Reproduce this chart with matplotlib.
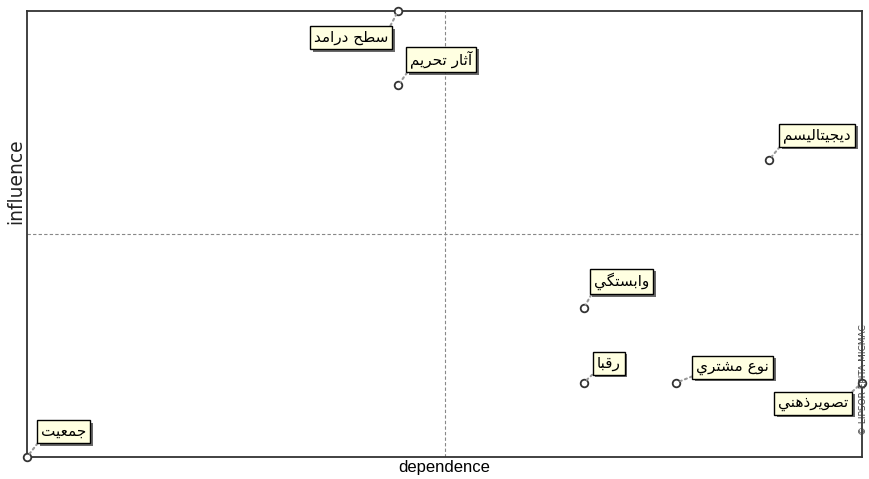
import matplotlib.pyplot as plt
import matplotlib.patheffects as pe

# Données : dépendance / influence
labels = ["جمعيت", "سطح درامد", "آثار تحريم", "ديجيتاليسم",
          "وابستگي", "رقبا", "نوع مشتري", "تصويرذهني"]
dependence = [0, 4, 4, 8, 6, 6, 7, 9]
influence = [0, 6, 5, 4, 2, 1, 1, 1]

# décalage du coin de l'étiquette (pixels) ; dy < 0 -> étiquette en bas à gauche
label_offsets = [(10, 14), (-6, -15), (8, 13), (10, 13),
                 (6, 14), (9, 8), (16, 4), (-10, -9)]
PAD_PX = 4

# formes contextuelles (isolée, finale, initiale, médiane)
FORMS = {
    'ا': ('\uFE8D', '\uFE8E', None, None),
    'آ': ('\uFE81', '\uFE82', None, None),
    'ب': ('\uFE8F', '\uFE90', '\uFE91', '\uFE92'),
    'ت': ('\uFE95', '\uFE96', '\uFE97', '\uFE98'),
    'ث': ('\uFE99', '\uFE9A', '\uFE9B', '\uFE9C'),
    'ج': ('\uFE9D', '\uFE9E', '\uFE9F', '\uFEA0'),
    'ح': ('\uFEA1', '\uFEA2', '\uFEA3', '\uFEA4'),
    'د': ('\uFEA9', '\uFEAA', None, None),
    'ذ': ('\uFEAB', '\uFEAC', None, None),
    'ر': ('\uFEAD', '\uFEAE', None, None),
    'س': ('\uFEB1', '\uFEB2', '\uFEB3', '\uFEB4'),
    'ش': ('\uFEB5', '\uFEB6', '\uFEB7', '\uFEB8'),
    'ص': ('\uFEB9', '\uFEBA', '\uFEBB', '\uFEBC'),
    'ط': ('\uFEC1', '\uFEC2', '\uFEC3', '\uFEC4'),
    'ع': ('\uFEC9', '\uFECA', '\uFECB', '\uFECC'),
    'ق': ('\uFED5', '\uFED6', '\uFED7', '\uFED8'),
    'ل': ('\uFEDD', '\uFEDE', '\uFEDF', '\uFEE0'),
    'م': ('\uFEE1', '\uFEE2', '\uFEE3', '\uFEE4'),
    'ن': ('\uFEE5', '\uFEE6', '\uFEE7', '\uFEE8'),
    'ه': ('\uFEE9', '\uFEEA', '\uFEEB', '\uFEEC'),
    'و': ('\uFEED', '\uFEEE', None, None),
    'ي': ('\uFEF1', '\uFEF2', '\uFEF3', '\uFEF4'),
    'گ': ('\uFB92', '\uFB93', '\uFB94', '\uFB95'),
}


def shape(text):
    # mise en forme arabe simple + ordre visuel droite->gauche
    out = []
    for i, c in enumerate(text):
        if c not in FORMS:
            out.append(c)
            continue
        prev = text[i - 1] if i > 0 else None
        nxt = text[i + 1] if i + 1 < len(text) else None
        iso, fin, ini, med = FORMS[c]
        jp = prev in FORMS and FORMS[prev][2] is not None
        jn = ini is not None and nxt in FORMS
        if jp and jn:
            out.append(med)
        elif jp:
            out.append(fin)
        elif jn:
            out.append(ini)
        else:
            out.append(iso)
    return ''.join(reversed(out))


fig = plt.figure(figsize=(8.69, 4.79), dpi=100)
ax = fig.add_axes([27 / 869, 22 / 479, 835 / 869, 446 / 479])
ax.set_xlim(0, 9)
ax.set_ylim(0, 6)
ax.set_xticks([])
ax.set_yticks([])
for s in ax.spines.values():
    s.set_color('#333333')
    s.set_linewidth(1.3)

# axes médians
ax.axvline(4.5, color='#888888', lw=0.8, ls=(0, (3, 2)))
ax.axhline(3, color='#888888', lw=0.8, ls=(0, (3, 2)))

ax.scatter(dependence, influence, s=30, facecolor='white', edgecolor='#333333',
           linewidth=1.3, zorder=5, clip_on=False)

for lab, x, y, (dx, dy) in zip(labels, dependence, influence, label_offsets):
    if dy > 0:
        off, ha, va, rp = (dx + PAD_PX, dy + PAD_PX), 'left', 'bottom', (0, 0)
    else:
        off, ha, va, rp = (dx - PAD_PX, dy - PAD_PX), 'right', 'top', (1, 1)
    ann = ax.annotate(shape(lab), (x, y), xytext=off, textcoords='offset pixels',
                      ha=ha, va=va, fontsize=11, family='DejaVu Sans', zorder=6,
                      bbox=dict(boxstyle='square,pad=0.26', fc='#FFFFE1', ec='black', lw=1),
                      arrowprops=dict(arrowstyle='-', ls=':', color='#999999', lw=1.5,
                                      shrinkA=0, shrinkB=3, relpos=rp),
                      annotation_clip=False)
    ann.get_bbox_patch().set_path_effects([
        pe.SimplePatchShadow(offset=(2, -2), shadow_rgbFace='#444444', alpha=0.8),
        pe.Normal()])

ax.set_xlabel("dependence", fontsize=12, family='Liberation Sans', labelpad=2)
ax.set_ylabel("influence", fontsize=13.5, family='DejaVu Sans', color='#222222')
ax.yaxis.set_label_coords(-0.002, 0.618)

fig.text(868 / 869, 99 / 479, "© LIPSOR-EPITA-MICMAC", rotation=90,
         fontsize=6.5, color='#444444', ha='right', va='center')

fig.savefig("out.png", dpi=100)
